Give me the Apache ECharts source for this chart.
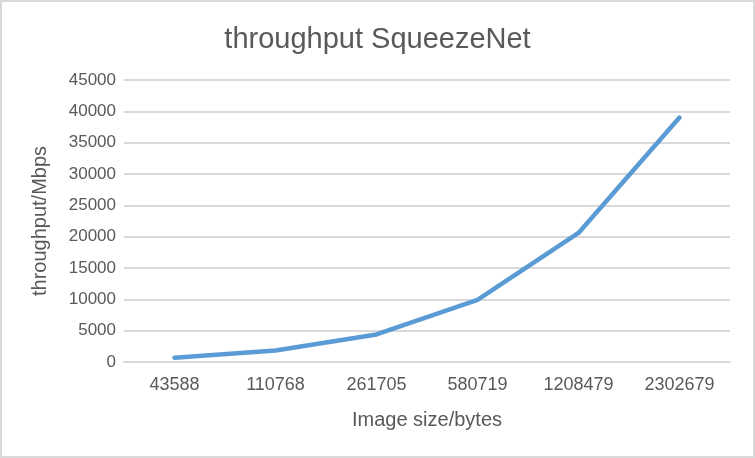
<!DOCTYPE html>
<html>
<head>
<meta charset="utf-8">
<script src="https://cdn.jsdelivr.net/npm/echarts@6/dist/echarts.min.js"></script>
<style>
  html, body { margin: 0; padding: 0; background: #fff; }
  #chart { width: 755px; height: 458px; }
</style>
</head>
<body>
<div id="chart"></div>
<script>
// image sizes (bytes) on the x axis
var categories = ["43588", "110768", "261705", "580719", "1208479", "2302679"];
// throughput in Mbps
var throughput = [690, 1850, 4400, 9900, 20600, 39000];

var textColor = "#595959";
var gridColor = "#d9d9d9";

var chart = echarts.init(document.getElementById("chart"));
chart.setOption({
  animation: false,
  backgroundColor: "#fff",
  title: {
    text: "throughput SqueezeNet",
    left: "center",
    top: 20,
    textStyle: { color: textColor, fontSize: 29, fontWeight: "normal", fontFamily: "Liberation Sans" }
  },
  graphic: [{
    type: "rect",
    shape: { x: 1, y: 1, width: 753, height: 456 },
    style: { fill: "none", stroke: gridColor, lineWidth: 2 },
    silent: true
  }],
  grid: { left: 124, right: 25, top: 80, bottom: 96 },
  xAxis: {
    type: "category",
    data: categories,
    boundaryGap: true,
    name: "Image size/bytes",
    nameLocation: "middle",
    nameGap: 48,
    nameTextStyle: { color: textColor, fontSize: 20, fontFamily: "Liberation Sans" },
    axisLine: { lineStyle: { color: gridColor, width: 2 } },
    axisTick: { show: false },
    axisLabel: { color: textColor, fontSize: 18, margin: 14, fontFamily: "Liberation Sans" }
  },
  yAxis: {
    type: "value",
    min: 0,
    max: 45000,
    interval: 5000,
    name: "throughput/Mbps",
    nameLocation: "middle",
    nameGap: 74,
    nameTextStyle: { color: textColor, fontSize: 20, fontFamily: "Liberation Sans" },
    axisLine: { show: false },
    axisTick: { show: false },
    axisLabel: {
      color: textColor, fontSize: 17, margin: 8, fontFamily: "Liberation Sans",
      formatter: function (v) { return String(v); }
    },
    splitLine: { lineStyle: { color: gridColor, width: 2 } }
  },
  series: [{
    type: "line",
    data: throughput,
    showSymbol: false,
    lineStyle: { color: "#5b9bd5", width: 4.5, cap: "round", join: "round" },
    itemStyle: { color: "#5b9bd5" }
  }]
});
</script>
</body>
</html>
